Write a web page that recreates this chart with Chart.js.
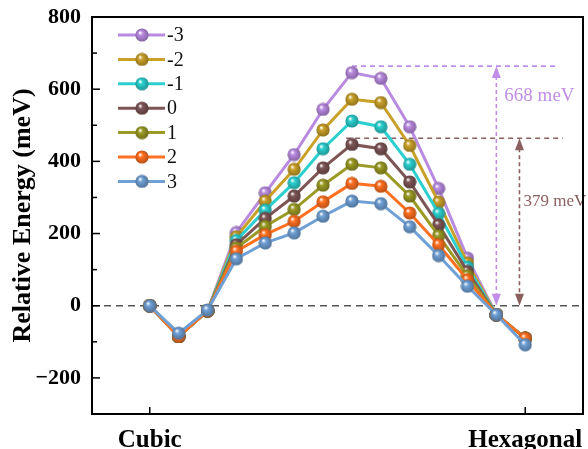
<!DOCTYPE html>
<html>
<head>
<meta charset="utf-8">
<script src="https://cdn.jsdelivr.net/npm/chart.js@4.4.0/dist/chart.umd.min.js"></script>
<style>
html, body { margin: 0; padding: 0; background: #fff; }
</style>
</head>
<body>
<canvas id="myChart" width="588" height="449"></canvas>
<script>
// reaction path images, Cubic -> Hexagonal
const steps = [0, 1, 2, 3, 4, 5, 6, 7, 8, 9, 10, 11, 12, 13];
const seriesNames = ['-3', '-2', '-1', '0', '1', '2', '3'];
const energyM3 = [0, -85, -14, 203, 313, 419, 544, 646, 630, 496, 325, 132, -25, -90];
const energyM2 = [0, -85, -14, 191, 290, 378, 487, 572, 563, 444, 287, 118, -25, -90];
const energyM1 = [0, -85, -14, 181, 265, 341, 435, 512, 496, 392, 256, 107, -25, -90];
const energy0  = [0, -85, -14, 169, 242, 304, 382, 447, 435, 343, 224, 95, -25, -90];
const energyP1 = [0, -85, -14, 160, 220, 267, 334, 392, 382, 304, 194, 83, -25, -90];
const energyP2 = [0, -85, -14, 151, 197, 234, 288, 339, 331, 257, 169, 72, -25, -90];
const energyP3 = [0, -76, -12, 130, 174, 202, 248, 290, 283, 219, 139, 54, -25, -108];
const xTickLabels = { 0: 'Cubic', 13: 'Hexagonal' };
const yTicks = [-200, 0, 200, 400, 600, 800];
const yMinorTicks = [-100, 100, 300, 500, 700];

// barrier annotations (-3 and 0)
const barrierText = ['668 meV', '379 meV'];
const barrierTop = [664, 464];
const barrierX = [12, 12.8];
const barrierFrom = [7, 6.8];
const barrierTo = [14.1, 14.3];
const barrierTextY = [580, 290];

const allSeries = [energyM3, energyM2, energyM1, energy0, energyP1, energyP2, energyP3];
const colors = ['#b98be0', '#c9a028', '#2ccfcf', '#7d5555', '#9a9a25', '#ff7020', '#6fa0d5'];
const barrierColors = ['#c08ee6', '#8a5f5f'];

function darken(hex, f) {
    const n = parseInt(hex.slice(1), 16);
    const r = Math.round(((n >> 16) & 255) * f);
    const g = Math.round(((n >> 8) & 255) * f);
    const b = Math.round((n & 255) * f);
    return 'rgb(' + r + ',' + g + ',' + b + ')';
}

function sphere(color) {
    const c = document.createElement('canvas');
    c.width = 14; c.height = 14;
    const g = c.getContext('2d');
    const grad = g.createRadialGradient(5, 4.5, 0.3, 7, 7, 7);
    grad.addColorStop(0, '#ffffff');
    grad.addColorStop(0.3, color);
    grad.addColorStop(1, darken(color, 0.7));
    g.fillStyle = grad;
    g.beginPath();
    g.arc(7, 7, 6.6, 0, Math.PI * 2);
    g.fill();
    return c;
}

const spheres = colors.map(sphere);

// pointRadius kept small so chart.js doesn't reserve overflow room; the sphere image sets the size
const datasets = allSeries.map((vals, i) => ({
    label: seriesNames[i],
    data: steps.map((s, j) => ({ x: s, y: vals[j] })),
    borderColor: colors[i],
    backgroundColor: colors[i],
    borderWidth: 3,
    pointStyle: spheres[i],
    pointRadius: 1,
    pointBorderWidth: 0,
    clip: false,
    tension: 0,
    order: allSeries.length - 1 - i
}));

function line(ctx, x1, y1, x2, y2) {
    ctx.beginPath();
    ctx.moveTo(x1, y1);
    ctx.lineTo(x2, y2);
    ctx.stroke();
}

function arrowHead(ctx, x, y, dir) {
    ctx.beginPath();
    ctx.moveTo(x, y);
    ctx.lineTo(x - 4.5, y + dir * 12);
    ctx.lineTo(x + 4.5, y + dir * 12);
    ctx.closePath();
    ctx.fill();
}

const framePlugin = {
    id: 'frame',
    beforeDatasetsDraw(chart) {
        const { ctx, chartArea: a, scales: { x, y } } = chart;
        ctx.save();
        // zero reference line
        ctx.strokeStyle = '#555';
        ctx.lineWidth = 1.5;
        ctx.setLineDash([7, 5]);
        const y0 = y.getPixelForValue(0);
        line(ctx, a.left, y0, a.right, y0);

        for (let k = 0; k < barrierText.length; k++) {
            const yt = y.getPixelForValue(barrierTop[k]);
            const xa = x.getPixelForValue(barrierX[k]);
            ctx.strokeStyle = barrierColors[k];
            ctx.fillStyle = barrierColors[k];
            ctx.lineWidth = 1.6;
            ctx.setLineDash([5, 4]);
            line(ctx, x.getPixelForValue(barrierFrom[k]), yt, x.getPixelForValue(barrierTo[k]), yt);
            ctx.setLineDash([4, 3]);
            line(ctx, xa, yt + 10, xa, y0 - 10);
            ctx.setLineDash([]);
            arrowHead(ctx, xa, yt, 1);
            arrowHead(ctx, xa, y0, -1);
            ctx.font = (k === 0 ? '19px' : '17px') + ' "Liberation Serif", serif';
            ctx.textBaseline = 'middle';
            ctx.textAlign = 'left';
            ctx.fillText(barrierText[k], xa + (k === 0 ? 8 : 4), y.getPixelForValue(barrierTextY[k]));
        }
        ctx.restore();
    },
    afterDraw(chart) {
        const { ctx, chartArea: a, scales: { x, y } } = chart;
        ctx.save();
        ctx.strokeStyle = '#000';
        ctx.lineWidth = 2;
        ctx.setLineDash([]);
        ctx.strokeRect(a.left, a.top, a.right - a.left, a.bottom - a.top);
        ctx.lineWidth = 1.5;
        for (const v of yTicks) {
            const py = y.getPixelForValue(v);
            line(ctx, a.left, py, a.left + 8, py);
        }
        for (const v of yMinorTicks) {
            const py = y.getPixelForValue(v);
            line(ctx, a.left, py, a.left + 5, py);
        }
        for (const k of Object.keys(xTickLabels)) {
            const px = x.getPixelForValue(Number(k));
            line(ctx, px, a.bottom, px, a.bottom - 7);
        }

        // legend
        ctx.font = '20px "Liberation Serif", serif';
        ctx.textBaseline = 'middle';
        ctx.textAlign = 'left';
        for (let i = 0; i < seriesNames.length; i++) {
            const ly = 35 + i * 24.4;
            ctx.strokeStyle = colors[i];
            ctx.lineWidth = 3;
            line(ctx, 118, ly, 165, ly);
            ctx.drawImage(spheres[i], 135, ly - 7);
            ctx.fillStyle = '#111';
            ctx.fillText(seriesNames[i], 167, ly + 1);
        }
        ctx.restore();
    }
};

const ctx = document.getElementById('myChart').getContext('2d');
const myChart = new Chart(ctx, {
    type: 'line',
    data: { datasets: datasets },
    options: {
        responsive: false,
        animation: false,
        events: [],
        layout: { padding: { top: 17, right: 5, left: 0, bottom: 0 } },
        plugins: {
            legend: { display: false },
            tooltip: { enabled: false }
        },
        scales: {
            x: {
                type: 'linear',
                min: -2,
                max: 15,
                grid: { display: false, drawTicks: false },
                border: { display: false },
                afterBuildTicks: (scale) => {
                    scale.ticks = Object.keys(xTickLabels).map(k => ({ value: Number(k) }));
                },
                afterFit: (scale) => {
                    scale.height = 35;
                    scale.paddingLeft = 0;
                    scale.paddingRight = 0;
                },
                ticks: {
                    padding: 12,
                    maxRotation: 0,
                    autoSkip: false,
                    color: '#000',
                    font: { family: '"Liberation Serif", serif', size: 25, weight: 'bold' },
                    callback: (v) => xTickLabels[v] || ''
                }
            },
            y: {
                min: -300,
                max: 800,
                grid: { display: false, drawTicks: false },
                border: { display: false },
                afterBuildTicks: (scale) => {
                    scale.ticks = yTicks.map(v => ({ value: v }));
                },
                afterFit: (scale) => {
                    scale.width = 92;
                    scale.paddingTop = 0;
                    scale.paddingBottom = 0;
                },
                ticks: {
                    padding: 11,
                    color: '#000',
                    font: { family: '"Liberation Serif", serif', size: 22, weight: 'bold' },
                    callback: (v) => (v < 0 ? '\u2212' + Math.abs(v) : String(v))
                },
                title: {
                    display: true,
                    text: 'Relative Energy (meV)',
                    color: '#000',
                    padding: { top: 8, bottom: 0 },
                    font: { family: '"Liberation Serif", serif', size: 26, weight: 'bold' }
                }
            }
        }
    },
    plugins: [framePlugin]
});
</script>
</body>
</html>
